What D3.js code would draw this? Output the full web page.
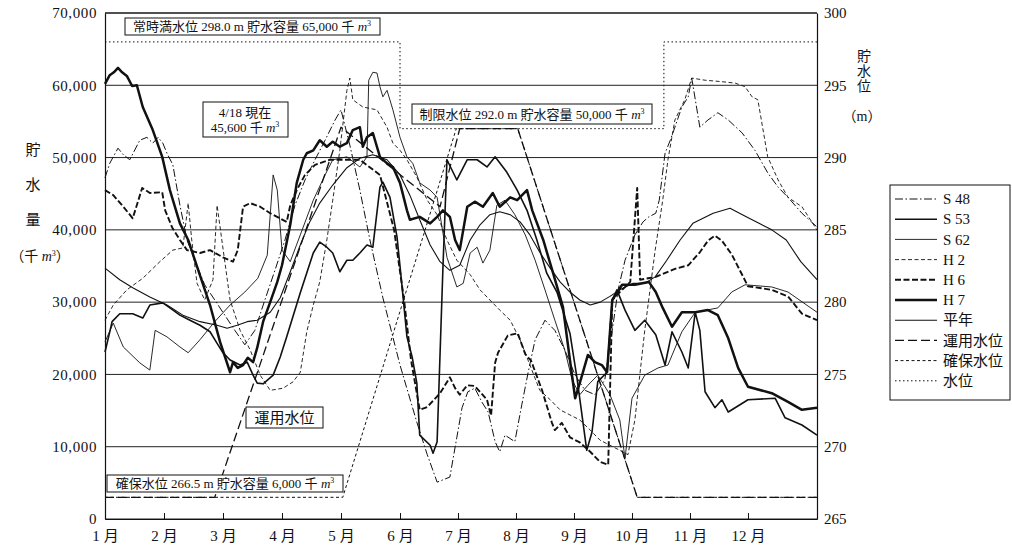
<!DOCTYPE html>
<html>
<head>
<meta charset="utf-8">
<script src="https://cdn.jsdelivr.net/npm/d3@7"></script>
<style>
  body { margin: 0; background: #fff; }
  svg text { font-family: "Liberation Serif", "Noto Sans CJK JP", serif; fill: #111; }
</style>
</head>
<body>
<div id="viz"></div>
<script>
// month labels, axis ticks and legend names
const months = ["1", "2", "3", "4", "5", "6", "7", "8", "9", "10", "11", "12"];
const storageTicks = [0, 10000, 20000, 30000, 40000, 50000, 60000, 70000];
const levelTicks = [265, 270, 275, 280, 285, 290, 295, 300];
const legendLabels = ["S 48", "S 53", "S 62", "H 2", "H 6", "H 7", "平年", "運用水位", "確保水位", "水位"];

// storage series: [month (0 = 1/1), 貯水量 千m3]
const s48 = [[0,47200],[0.08,49200],[0.22,51300],[0.31,50400],[0.42,49700],[0.59,52400],[0.71,52800],[0.81,52000],[0.9,52800],[0.98,52000],[1.05,50600],[1.15,49000],[1.27,43400],[1.39,38600],[1.53,35600],[1.69,32400],[1.86,30300],[2.03,28200],[2.2,26100],[2.37,24100],[2.54,26100],[2.71,30300],[2.88,34400],[3.05,38600],[3.22,43400],[3.39,46900],[3.56,49700],[3.73,52400],[3.9,55200],[4.0,56600],[4.15,51700],[4.32,45500],[4.49,38600],[4.71,30600],[5.0,21300],[5.29,13400],[5.47,8900],[5.64,5100],[5.86,5800],[5.98,11300],[6.07,15400],[6.17,17600],[6.29,18100],[6.41,16200],[6.52,14800],[6.64,10700],[6.72,9300],[6.81,11600],[6.98,10700],[7.1,15800],[7.21,20300],[7.33,24800],[7.5,27500],[7.67,26100],[7.84,23400],[8.02,19900],[8.19,17800],[8.36,17200],[8.53,19200],[8.66,26100],[8.76,31700],[8.88,35800],[9.05,39300],[9.19,41100],[9.29,41800],[9.41,42300],[9.47,44100],[9.57,50600],[9.66,52400],[9.74,54200],[9.86,57000],[9.97,58400],[10.03,61000],[10.17,54200],[10.31,55200],[10.48,56200],[10.66,55200],[10.9,53400],[11.12,51000],[11.34,47900],[11.52,45900],[11.69,44500],[11.93,42300],[12.19,40400]];

const s53 = [[0,23100],[0.07,25500],[0.12,27300],[0.25,28400],[0.47,28400],[0.64,27800],[0.76,29600],[0.98,29900],[1.1,29200],[1.27,28200],[1.44,27500],[1.61,26800],[1.78,25900],[1.9,24300],[2.0,23000],[2.12,22000],[2.29,21300],[2.41,21700],[2.51,19900],[2.58,18800],[2.68,18700],[2.85,19900],[2.97,22400],[3.08,25200],[3.31,31300],[3.53,36800],[3.64,38300],[3.76,37600],[3.86,36800],[3.98,34200],[4.1,35800],[4.2,35800],[4.32,36800],[4.44,37900],[4.54,37600],[4.66,45900],[4.71,46600],[4.83,44500],[4.95,39000],[5.03,32600],[5.12,25200],[5.21,22400],[5.29,18800],[5.34,11600],[5.52,10200],[5.57,9100],[5.64,10700],[5.74,34700],[5.81,49700],[5.98,46900],[6.16,49700],[6.33,49700],[6.5,48700],[6.64,50100],[6.84,48000],[7.02,45500],[7.19,42700],[7.36,38600],[7.53,34000],[7.71,31300],[7.93,25700],[8.05,19600],[8.22,9500],[8.31,12000],[8.41,19000],[8.57,20300],[8.66,30300],[8.74,31700],[8.88,28900],[9.05,26100],[9.22,27500],[9.41,25500],[9.57,21300],[9.69,25900],[9.86,23100],[9.97,20900],[10.09,28600],[10.17,26100],[10.26,17600],[10.43,15400],[10.55,16500],[10.66,14800],[11.0,16500],[11.47,16700],[11.64,14000],[11.93,13000],[12.19,11600]];

const s62 = [[0,24500],[0.14,27100],[0.31,23800],[0.59,21600],[0.76,20600],[0.85,26100],[1.05,25200],[1.27,23800],[1.41,23000],[1.61,24800],[1.86,27300],[2.12,29600],[2.37,31400],[2.59,33300],[2.75,36500],[2.85,47600],[2.92,45500],[3.0,37200],[3.14,35600],[3.31,39300],[3.53,44100],[3.73,47600],[3.86,49700],[4.1,50100],[4.32,48700],[4.44,50100],[4.47,60700],[4.54,61800],[4.61,61700],[4.66,59800],[4.71,58400],[4.78,59300],[4.88,56600],[5.0,52800],[5.12,50100],[5.22,49200],[5.34,46500],[5.52,45500],[5.64,44500],[5.81,36200],[5.98,32100],[6.09,32600],[6.21,36800],[6.33,37600],[6.43,35400],[6.55,37200],[6.67,43400],[6.81,44100],[6.98,42100],[7.16,39300],[7.33,35800],[7.5,31700],[7.67,27500],[7.84,23400],[7.97,19200],[8.1,17200],[8.24,18500],[8.41,19900],[8.62,17200],[8.79,13700],[8.88,8400],[9.0,16700],[9.22,19900],[9.45,20900],[9.62,21300],[9.86,25900],[10.09,28600],[10.48,29200],[10.72,31400],[10.95,32400],[11.41,32100],[11.69,31400],[12.19,28600]];

const h2 = [[0,27500],[0.14,29600],[0.37,31700],[0.64,33300],[0.93,35600],[1.15,37200],[1.32,37500],[1.41,43700],[1.47,38600],[1.56,32600],[1.69,30300],[1.83,33100],[1.9,43400],[1.98,38600],[2.12,30300],[2.29,26100],[2.46,23400],[2.63,19900],[2.8,17800],[3.02,18100],[3.19,19000],[3.31,20300],[3.42,25900],[3.53,29600],[3.64,32800],[3.76,38600],[3.86,44100],[3.98,51000],[4.1,59300],[4.15,61000],[4.2,58000],[4.37,57000],[4.61,56600],[4.78,54200],[4.88,52000],[5.0,51000],[5.12,49700],[5.29,47300],[5.47,44100],[5.64,42100],[5.81,38600],[5.98,35800],[6.21,33800],[6.38,31700],[6.55,30300],[6.72,28900],[6.9,27500],[7.07,24800],[7.24,21300],[7.41,17800],[7.59,16500],[7.76,15100],[7.93,14400],[8.1,13700],[8.28,12300],[8.45,10900],[8.62,10200],[8.79,9500],[8.93,8900],[9.05,13700],[9.22,26100],[9.4,37200],[9.53,44100],[9.62,49700],[9.74,55200],[9.91,58000],[10.03,61000],[10.26,60700],[10.55,60500],[10.78,60300],[10.95,59800],[11.07,58400],[11.17,58000],[11.34,50100],[11.52,46900],[11.69,44500],[11.93,43200],[12.19,40000]];

const h6 = [[0,45500],[0.14,44800],[0.31,43200],[0.47,41600],[0.63,45800],[0.76,45100],[0.97,45200],[1.02,42700],[1.14,40300],[1.27,38600],[1.39,37200],[1.61,36800],[1.78,37200],[2.0,36200],[2.17,35600],[2.25,37200],[2.34,43200],[2.46,43700],[2.63,43200],[2.8,42300],[3.08,41100],[3.14,43400],[3.25,45500],[3.39,47600],[3.56,49000],[3.81,49700],[4.32,49700],[4.66,47600],[4.9,40000],[5.07,30300],[5.19,22000],[5.34,15100],[5.47,15500],[5.69,17400],[5.86,19600],[5.95,18100],[6.03,17200],[6.16,18500],[6.29,18400],[6.5,16500],[6.57,14300],[6.64,21600],[6.69,23000],[6.86,25400],[7.03,25700],[7.16,22800],[7.26,21900],[7.45,17800],[7.62,13300],[7.67,12300],[7.79,13300],[7.93,11300],[8.1,10600],[8.28,9300],[8.45,7900],[8.59,7500],[8.66,30300],[8.79,31400],[8.97,32800],[9.09,45800],[9.14,33100],[9.41,33500],[9.74,34600],[9.97,35100],[10.17,36900],[10.31,38500],[10.43,39200],[10.55,38500],[10.72,36600],[11.0,32200],[11.41,31700],[11.69,30800],[11.93,28400],[12.19,27500]];

const h7 = [[0,60200],[0.08,61400],[0.15,61800],[0.22,62400],[0.29,61800],[0.37,61300],[0.46,59900],[0.54,60000],[0.64,57000],[0.81,53800],[0.97,50100],[1.1,45500],[1.27,40900],[1.41,38600],[1.56,34900],[1.78,29600],[1.95,24500],[2.12,20300],[2.17,21700],[2.25,20900],[2.34,21300],[2.42,22300],[2.51,21700],[2.58,23700],[2.68,27300],[2.8,30000],[2.92,32800],[3.0,35100],[3.14,40700],[3.25,46500],[3.36,49700],[3.42,50600],[3.53,51000],[3.64,52400],[3.76,51500],[3.86,52200],[3.98,51500],[4.1,52000],[4.2,53800],[4.32,54200],[4.37,51500],[4.44,52800],[4.54,53400],[4.66,50100],[4.78,49200],[4.88,48700],[5.0,46500],[5.12,42700],[5.17,41400],[5.34,41800],[5.52,40900],[5.64,41800],[5.74,42700],[5.86,41800],[5.95,38600],[6.03,37200],[6.16,43200],[6.29,43900],[6.43,43200],[6.6,45100],[6.72,43200],[6.9,44500],[7.02,44100],[7.19,45500],[7.28,42700],[7.47,38600],[7.64,34000],[7.81,29300],[7.93,22000],[8.02,16700],[8.14,19900],[8.24,22700],[8.36,21700],[8.48,21300],[8.57,20300],[8.66,30300],[8.83,32400],[9.05,32400],[9.29,32800],[9.41,31400],[9.53,29200],[9.69,26600],[9.86,28600],[10.09,28600],[10.31,28900],[10.48,28200],[10.66,25000],[10.83,20900],[11.0,18300],[11.41,17400],[11.69,16200],[11.93,15100],[12.19,15400]];

const heinen = [[0,34700],[0.25,33100],[0.47,32000],[0.76,30700],[1.05,29600],[1.32,28200],[1.61,27300],[1.9,26800],[2.07,26400],[2.24,26800],[2.41,27300],[2.58,27500],[2.8,28600],[2.97,30600],[3.14,34200],[3.31,37900],[3.47,41100],[3.64,43700],[3.86,46200],[4.1,48600],[4.32,49900],[4.54,50400],[4.78,49700],[5.0,47600],[5.17,44800],[5.34,41400],[5.52,37900],[5.69,35600],[5.86,34400],[6.03,35100],[6.21,38600],[6.38,40700],[6.55,42100],[6.72,42500],[6.9,42100],[7.07,41100],[7.24,39300],[7.41,36900],[7.59,34700],[7.76,32800],[7.93,31400],[8.1,30300],[8.28,29600],[8.45,30000],[8.62,30800],[8.79,31700],[9.02,32600],[9.22,32600],[9.4,33500],[9.6,35800],[9.83,38600],[10.05,40900],[10.4,42300],[10.69,43000],[10.97,41800],[11.19,40900],[11.41,40000],[11.66,38600],[11.91,35600],[12.19,33100]];

// water level series: [month, 水位 m]
const unyou = [[0,266.5],[1.86,266.5],[4.0,292.1],[5.69,286.6],[6.03,292],[7.03,292],[9.09,266.5],[12.19,266.5]];
const kakuho = [[0,266.5],[4.03,266.5],[5.97,292],[7.03,292],[9.09,266.5],[12.19,266.5]];
const suii = [[0,298],[5.0,298],[5.0,292],[9.55,292],[9.55,298],[12.19,298]];

const width = 1012, height = 548;
const svg = d3.select("#viz").append("svg")
  .attr("width", width)
  .attr("height", height);

// month axis: the scan is slightly stretched in the first half
const x = d3.scaleLinear().domain([0, 5, 12.19]).range([105, 400, 817]);
const y = d3.scaleLinear().domain([0, 70000]).range([519, 13]);
const yR = d3.scaleLinear().domain([265, 300]).range([519, 13]);

// grid lines
svg.append("g")
  .selectAll("line")
  .data(storageTicks)
  .join("line")
  .attr("x1", x(0)).attr("x2", x(12.19))
  .attr("y1", d => y(d)).attr("y2", d => y(d))
  .attr("stroke", "#222")
  .attr("stroke-width", 1);

const styles = [
  { data: s48, w: 1, dash: "8,2.5,1.5,2.5", axis: "L" },
  { data: s53, w: 1.6, dash: null, axis: "L" },
  { data: s62, w: 0.9, dash: null, axis: "L" },
  { data: h2, w: 0.9, dash: "4,2.5", axis: "L" },
  { data: h6, w: 1.9, dash: "6,2.5", axis: "L" },
  { data: h7, w: 2.5, dash: null, axis: "L" },
  { data: heinen, w: 1.1, dash: null, axis: "L" },
  { data: unyou, w: 1.3, dash: "9,4", axis: "R" },
  { data: kakuho, w: 1, dash: "3,2.5", axis: "R" },
  { data: suii, w: 1, dash: "1.5,2.5", axis: "R" }
];

const lineL = d3.line().x(d => x(d[0])).y(d => y(d[1]));
const lineR = d3.line().x(d => x(d[0])).y(d => yR(d[1]));

svg.append("g")
  .selectAll("path")
  .data(styles)
  .join("path")
  .attr("fill", "none")
  .attr("stroke", "#111")
  .attr("stroke-width", d => d.w)
  .attr("stroke-dasharray", d => d.dash)
  .attr("stroke-linejoin", "round")
  .attr("d", d => d.axis === "L" ? lineL(d.data) : lineR(d.data));

// axes
const xAxis = d3.axisBottom(x)
  .tickValues(d3.range(12))
  .tickSizeInner(-6)
  .tickSizeOuter(0)
  .tickPadding(10)
  .tickFormat("");
const gx = svg.append("g").attr("transform", "translate(0,519)").call(xAxis);
gx.selectAll(".tick").append("text")
  .attr("y", 22)
  .attr("text-anchor", "middle")
  .style("font-size", "15px")
  .each(function(d) {
    const t = d3.select(this);
    t.append("tspan").text(months[d]);
    t.append("tspan").attr("dx", 4).text("月");
  });

const gyL = svg.append("g").attr("transform", "translate(105,0)")
  .call(d3.axisLeft(y).tickValues(storageTicks).tickFormat(d3.format(",")).tickSize(0).tickPadding(8));
gyL.selectAll("text").style("font-size", "15px").style("letter-spacing", "0.6px");

const gyR = svg.append("g").attr("transform", "translate(817,0)")
  .call(d3.axisRight(yR).tickValues(levelTicks).tickSize(0).tickPadding(7));
gyR.selectAll("text").style("font-size", "15px");

svg.selectAll(".domain").attr("stroke", "#111").attr("stroke-width", 1.2);
svg.selectAll(".tick line").attr("stroke", "#111");

// top frame line
svg.append("line")
  .attr("x1", x(0)).attr("x2", x(12.19))
  .attr("y1", y(70000)).attr("y2", y(70000))
  .attr("stroke", "#111").attr("stroke-width", 1.2);

// helper: text with 千 m3 unit
function addUnit(t) {
  t.append("tspan").text("千 ");
  t.append("tspan").attr("font-style", "italic").text("m");
  t.append("tspan").attr("dy", -5).style("font-size", "8px").text("3");
}

function box(x0, y0, w, h) {
  svg.append("rect")
    .attr("x", x0).attr("y", y0).attr("width", w).attr("height", h)
    .attr("fill", "#fff").attr("stroke", "#111").attr("stroke-width", 1);
}

// annotation boxes
box(125, 18, 255, 17);
let t = svg.append("text").attr("x", 252).attr("y", 31).attr("text-anchor", "middle").style("font-size", "13px");
t.append("tspan").text("常時満水位 298.0 m 貯水容量 65,000 ");
addUnit(t);

box(203, 102, 85, 35);
svg.append("text").attr("x", 245).attr("y", 117).attr("text-anchor", "middle").style("font-size", "13px").text("4/18 現在");
t = svg.append("text").attr("x", 245).attr("y", 132).attr("text-anchor", "middle").style("font-size", "13px");
t.append("tspan").text("45,600 ");
addUnit(t);

box(412, 104, 240, 20);
t = svg.append("text").attr("x", 532).attr("y", 119).attr("text-anchor", "middle").style("font-size", "13px");
t.append("tspan").text("制限水位 292.0 m 貯水容量 50,000 ");
addUnit(t);

box(107, 475, 236, 17);
t = svg.append("text").attr("x", 225).attr("y", 488).attr("text-anchor", "middle").style("font-size", "13px");
t.append("tspan").text("確保水位 266.5 m 貯水容量 6,000 ");
addUnit(t);

box(246, 407, 77, 21);
svg.append("text").attr("x", 284.5).attr("y", 423).attr("text-anchor", "middle").style("font-size", "15px").text("運用水位");

// axis titles
["貯", "水", "量"].forEach((c, i) => {
  svg.append("text").attr("x", 33).attr("y", 155 + i * 35).attr("text-anchor", "middle").style("font-size", "15px").text(c);
});
t = svg.append("text").attr("x", 40).attr("y", 261).attr("text-anchor", "middle").style("font-size", "14px");
t.append("tspan").text("（");
addUnit(t);
t.append("tspan").attr("dy", 5).text("）");

["貯", "水", "位"].forEach((c, i) => {
  svg.append("text").attr("x", 864).attr("y", 61 + i * 15).attr("text-anchor", "middle").style("font-size", "14px").text(c);
});
svg.append("text").attr("x", 862).attr("y", 121).attr("text-anchor", "middle").style("font-size", "14px").text("（m）");

// legend
const legend = svg.append("g");
legend.append("rect")
  .attr("x", 890).attr("y", 185).attr("width", 120).attr("height", 215)
  .attr("fill", "#fff").attr("stroke", "#111").attr("stroke-width", 1);
const items = legend.selectAll("g.item")
  .data(styles)
  .join("g")
  .attr("class", "item")
  .attr("transform", (d, i) => `translate(0,${199 + i * 20.2})`);
items.append("line")
  .attr("x1", 895).attr("x2", 937)
  .attr("stroke", "#111")
  .attr("stroke-width", d => d.w)
  .attr("stroke-dasharray", d => d.dash);
items.append("text")
  .attr("x", 943).attr("dy", "0.35em")
  .style("font-size", "15px")
  .text((d, i) => legendLabels[i]);
</script>
</body>
</html>
